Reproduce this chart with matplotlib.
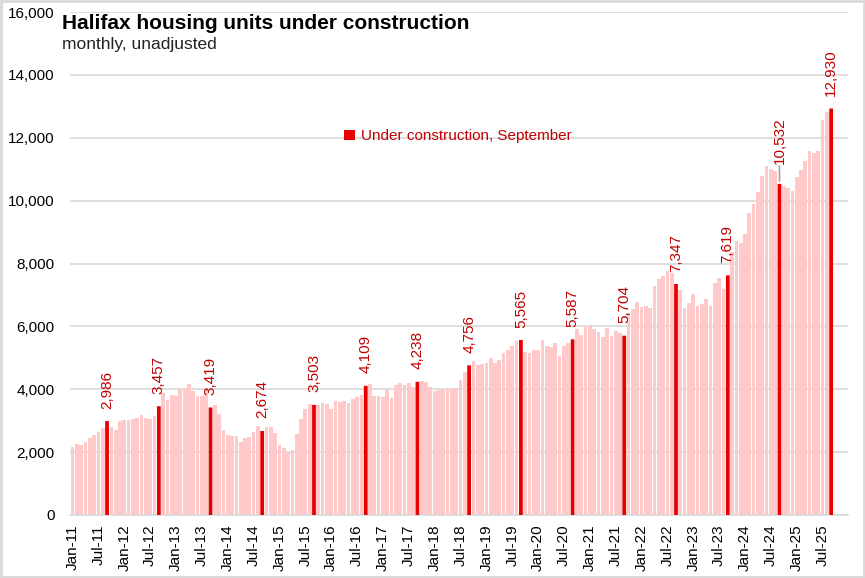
import numpy as np
import pandas as pd
import matplotlib
matplotlib.use("Agg")
import matplotlib.pyplot as plt

plt.rcParams['font.family'] = ['Liberation Sans', 'DejaVu Sans']

# monthly units under construction, Jan 2011 - Sep 2025
units = [
    2170, 2250, 2220, 2330, 2460, 2550, 2640, 2780, 2986, 2810, 2700, 3000,   # 2011
    3020, 3020, 3050, 3100, 3180, 3100, 3050, 3150, 3457, 3890, 3660, 3820,   # 2012
    3790, 4000, 4030, 4170, 3950, 3790, 3800, 4030, 3419, 3500, 3210, 2700,   # 2013
    2550, 2510, 2510, 2330, 2440, 2490, 2650, 2830, 2674, 2810, 2810, 2600,   # 2014
    2230, 2120, 2010, 2070, 2580, 3050, 3380, 3530, 3503, 3500, 3550, 3530,   # 2015
    3370, 3620, 3600, 3630, 3570, 3680, 3760, 3820, 4109, 4160, 3790, 3790,   # 2016
    3760, 3980, 3710, 4140, 4190, 4140, 4190, 4080, 4238, 4260, 4240, 4080,   # 2017
    3960, 3980, 3980, 4000, 4000, 4050, 4290, 4560, 4756, 4900, 4770, 4790,   # 2018
    4850, 4980, 4820, 4930, 5140, 5250, 5360, 5550, 5565, 5200, 5140, 5250,   # 2019
    5250, 5570, 5360, 5330, 5460, 5060, 5360, 5460, 5587, 5920, 5730, 5970,   # 2020
    6040, 5910, 5830, 5670, 5940, 5690, 5850, 5780, 5704, 6420, 6540, 6790,   # 2021
    6630, 6660, 6570, 7300, 7500, 7600, 7750, 7700, 7347, 7160, 6570, 6730,   # 2022
    7030, 6650, 6710, 6860, 6660, 7370, 7530, 7180, 7619, 8380, 8700, 8640,   # 2023
    8930, 9600, 9880, 10290, 10780, 11100, 11000, 10950, 10532, 10450, 10410, 10320,  # 2024
    10740, 10980, 11270, 11590, 11530, 11590, 12550, 12830, 12930,            # 2025
]
months = pd.date_range("2011-01-01", periods=len(units), freq="MS")

pink = "#FFC9C9"
red = "#E60000"
label_red = "#C00000"

x = np.arange(len(units))
units = np.array(units)
sep = months.month == 9

fig = plt.figure(figsize=(8.65, 5.78), dpi=100)
ax = fig.add_axes([70 / 865, 1 - 515 / 578, 778 / 865, 503 / 578])

ax.bar(x, units, width=0.86, color=pink, zorder=2)
sep_bars = ax.bar(x[sep], units[sep], width=0.86, color=red, zorder=3, snap=False,
                  label="Under construction, September")

# labels on the September bars
for xi, v in zip(x[sep], units[sep]):
    off = 9
    if v == 10532:
        off = 14
        ax.annotate("", xy=(xi, v), xytext=(0, 13), textcoords="offset points",
                    arrowprops=dict(arrowstyle="-", color="#A6A6A6", lw=1.2,
                                    shrinkA=0, shrinkB=2))
    ax.annotate(f"{v:,}", xy=(xi, v), xytext=(0, off), textcoords="offset points",
                rotation=90, ha="center", va="bottom", color=label_red, fontsize=11,
                zorder=4)

ax.set_ylim(0, 16000)
ax.set_xlim(-0.6, 179.9)
ax.set_yticks(np.arange(0, 16001, 2000))
ax.set_yticklabels([f"{t:,}" for t in range(0, 16001, 2000)], fontsize=11)
ticks = x[(months.month == 1) | (months.month == 7)]
ax.set_xticks(ticks)
ax.set_xticklabels([months[i].strftime("%b-%y") for i in ticks], rotation=90, fontsize=11)
ax.tick_params(axis="x", length=0, pad=7)
ax.tick_params(axis="y", length=0, pad=11)
ax.grid(axis="y", color="#D9D9D9", lw=1.2, zorder=0)
for s in ["top", "right", "left"]:
    ax.spines[s].set_visible(False)
ax.spines["bottom"].set_color("#D9D9D9")
ax.spines["bottom"].set_linewidth(1.2)

leg = ax.legend(handles=[sep_bars], loc="center left", bbox_to_anchor=(0.335, 0.753),
                frameon=False, fontsize=11, handlelength=0.7, handleheight=0.7,
                handletextpad=0.4)
for t in leg.get_texts():
    t.set_color(label_red)

fig.text(62 / 865, 1 - 14 / 578, "Halifax housing units under construction",
         fontsize=15, fontweight="bold", va="top", ha="left")
fig.text(62 / 865, 1 - 37 / 578, "monthly, unadjusted", fontsize=12.5, va="top",
         ha="left", color="#222222")

fig.patches.append(plt.Rectangle((0.001, 0.001), 0.998, 0.998, transform=fig.transFigure,
                                 fill=False, edgecolor="#D9D9D9", lw=2))

fig.savefig("out.png", dpi=100)
